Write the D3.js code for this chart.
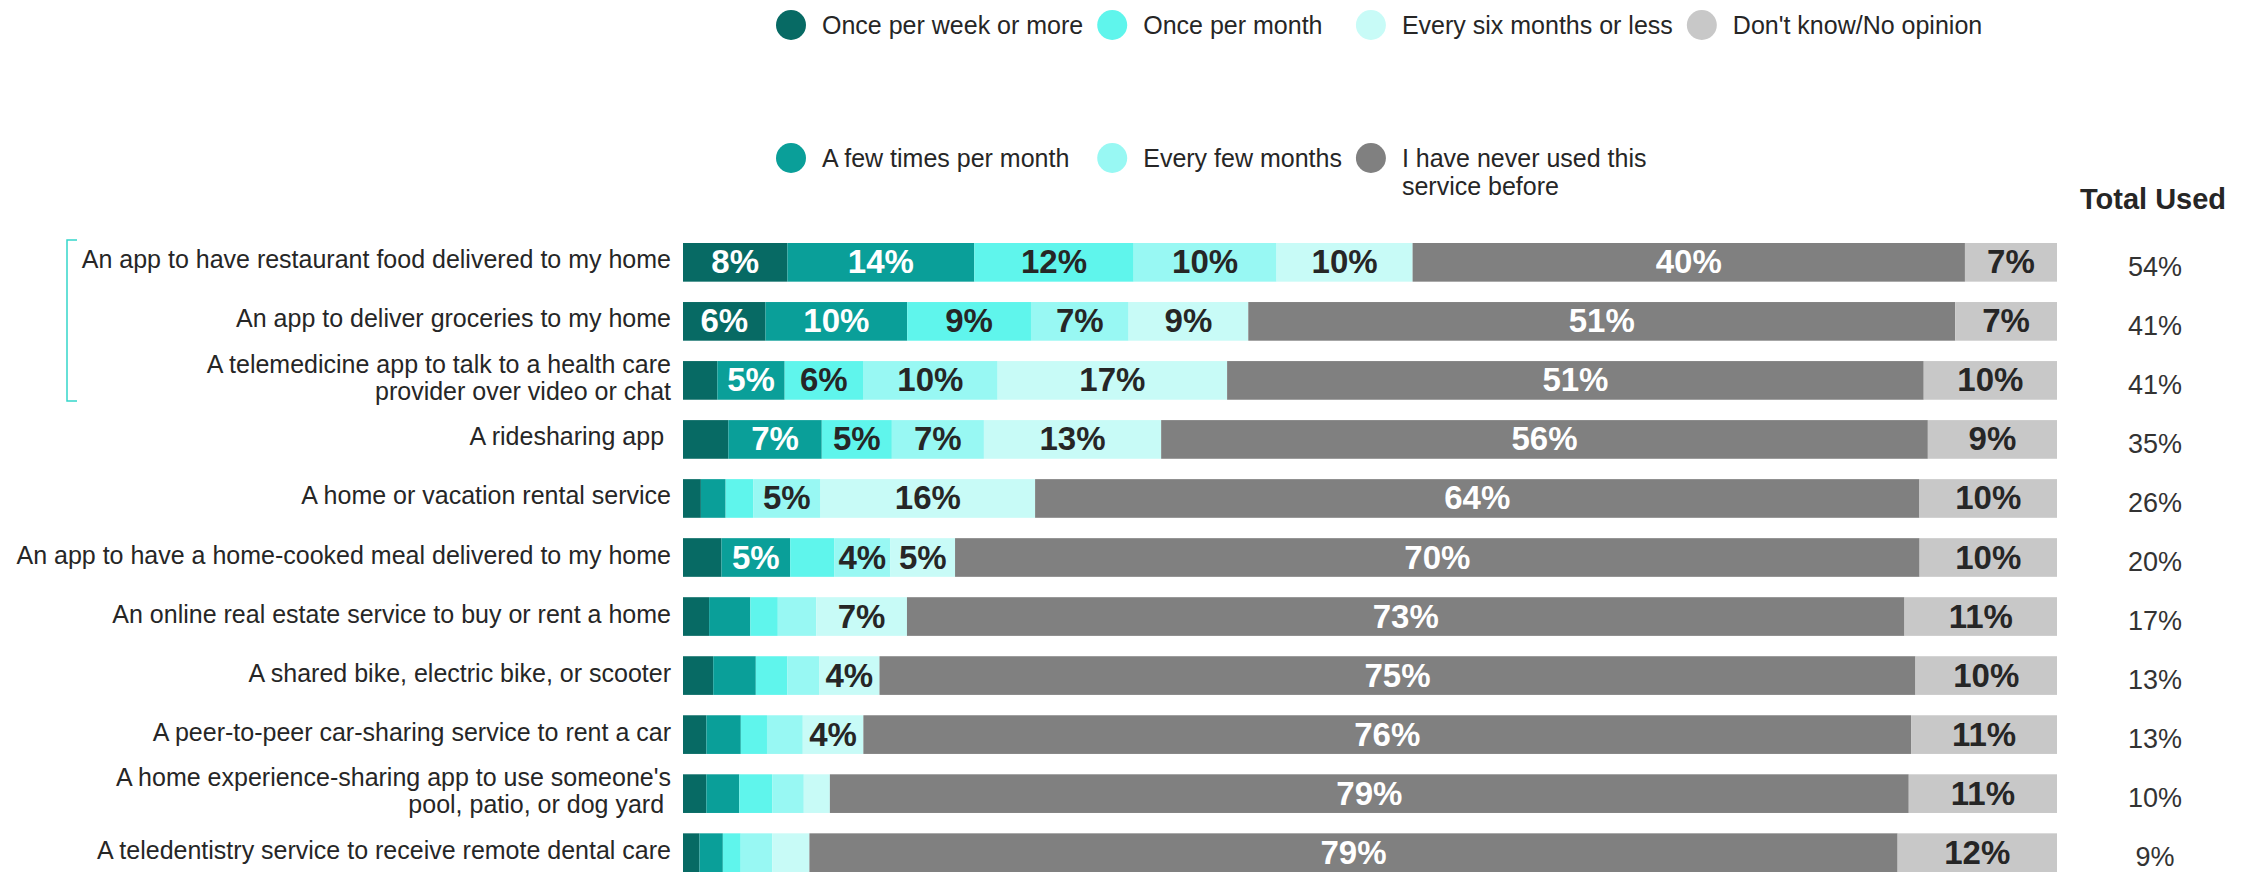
<!DOCTYPE html>
<html>
<head>
<meta charset="utf-8">
<script src="https://cdn.jsdelivr.net/npm/d3@7"></script>
<style>
  body { margin: 0; background: #fff; }
  svg text { font-family: "Liberation Sans", Arial, sans-serif; white-space: pre; }
</style>
</head>
<body>
<div id="chart"></div>
<script>
// categories, top to bottom ("\n" = line break)
const categories = [
  "An app to have restaurant food delivered to my home",
  "An app to deliver groceries to my home",
  "A telemedicine app to talk to a health care\nprovider over video or chat",
  "A ridesharing app ",
  "A home or vacation rental service",
  "An app to have a home-cooked meal delivered to my home",
  "An online real estate service to buy or rent a home",
  "A shared bike, electric bike, or scooter",
  "A peer-to-peer car-sharing service to rent a car",
  "A home experience-sharing app to use someone's\npool, patio, or dog yard ",
  "A teledentistry service to receive remote dental care"
];

// percent of respondents per frequency
const onceWeek       = [7.6, 6.0, 2.5, 3.3, 1.3, 2.8, 1.9, 2.2, 1.7, 1.7, 1.2];
const fewPerMonth    = [13.6, 10.3, 4.9, 6.8, 1.8, 5.0, 3.0, 3.1, 2.5, 2.4, 1.7];
const oncePerMonth   = [11.6, 9.0, 5.7, 5.1, 2.0, 3.2, 2.0, 2.3, 1.9, 2.4, 1.3];
const everyFewMonths = [10.4, 7.1, 9.8, 6.7, 4.9, 4.1, 2.8, 2.3, 2.6, 2.3, 2.3];
const sixMonths      = [9.9, 8.7, 16.7, 12.9, 15.6, 4.7, 6.6, 4.4, 4.4, 1.9, 2.7];
const neverUsed      = [40.2, 51.4, 50.7, 55.8, 64.3, 70.2, 72.6, 75.4, 76.1, 78.6, 79.2];
const dontKnow       = [6.7, 7.4, 9.7, 9.4, 10.0, 10.0, 11.1, 10.3, 10.6, 10.8, 11.6];
const totalUsed      = [54, 41, 41, 35, 26, 20, 17, 13, 13, 10, 9];

const seriesKeys = ["onceWeek", "fewPerMonth", "oncePerMonth", "everyFewMonths", "sixMonths", "neverUsed", "dontKnow"];
const seriesNames = ["Once per week or more", "A few times per month", "Once per month", "Every few months",
  "Every six months or less", "I have never used this\nservice before", "Don't know/No opinion"];
const colors = ["#076a64", "#0a9f99", "#5ff5ec", "#98f8f3", "#c8fbf7", "#808080", "#c8c8c8"];
const whiteText = ["onceWeek", "fewPerMonth", "neverUsed"];

const seriesData = [onceWeek, fewPerMonth, oncePerMonth, everyFewMonths, sixMonths, neverUsed, dontKnow];
const rows = categories.map((c, i) => {
  const r = {category: c};
  seriesKeys.forEach((k, j) => r[k] = seriesData[j][i]);
  r.total = totalUsed[i];
  return r;
});

const w = 2258, h = 873;
const svg = d3.select("#chart").append("svg").attr("width", w).attr("height", h);

const x = d3.scaleLinear().domain([0, 1]).range([683, 2057]);
const y = d3.scaleBand().domain(categories).range([243, 872]).paddingInner(0.345).paddingOuter(0);

const stack = d3.stack().keys(seriesKeys).offset(d3.stackOffsetExpand);
const stacked = stack(rows);

const layers = svg.selectAll(".layer").data(stacked).enter().append("g")
  .attr("class", "layer")
  .attr("fill", (d, i) => colors[i]);

layers.selectAll("rect").data(d => d).enter().append("rect")
  .attr("x", d => x(d[0]))
  .attr("y", d => y(d.data.category))
  .attr("width", d => x(d[1]) - x(d[0]))
  .attr("height", y.bandwidth());

// value labels
layers.each(function(layer) {
  const key = layer.key;
  d3.select(this).selectAll("text").data(layer.filter(d => d.data[key] >= 3.5)).enter().append("text")
    .attr("x", d => (x(d[0]) + x(d[1])) / 2)
    .attr("y", d => y(d.data.category) + y.bandwidth() / 2 + 11)
    .attr("text-anchor", "middle")
    .attr("font-size", 33)
    .attr("font-weight", "bold")
    .attr("fill", whiteText.includes(key) ? "#fff" : "#262626")
    .text(d => Math.round(d.data[key]) + "%");
});

// category labels
const catLabels = svg.append("g").selectAll("text").data(categories).enter().append("text")
  .attr("text-anchor", "end")
  .attr("font-size", 25)
  .attr("fill", "#262626");
catLabels.each(function(c) {
  const lines = c.split("\n");
  const cy = y(c) + y.bandwidth() / 2;
  const first = lines.length === 1 ? cy + 6 : cy - 7.5;
  d3.select(this).selectAll("tspan").data(lines).enter().append("tspan")
    .attr("x", 671)
    .attr("y", (l, i) => first + i * 27)
    .text(l => l);
});

// bracket around the top three rows
svg.append("path")
  .attr("d", `M77,240 H67 V401 H77`)
  .attr("fill", "none")
  .attr("stroke", "#35d6ca")
  .attr("stroke-width", 1.5);

// total used column
svg.append("text")
  .attr("x", 2153).attr("y", 209)
  .attr("text-anchor", "middle")
  .attr("font-size", 29).attr("font-weight", "bold").attr("fill", "#262626")
  .text("Total Used");

svg.append("g").selectAll("text").data(rows).enter().append("text")
  .attr("x", 2155)
  .attr("y", d => y(d.category) + y.bandwidth() / 2 + 13.5)
  .attr("text-anchor", "middle")
  .attr("font-size", 27)
  .attr("fill", "#333")
  .text(d => d.total + "%");

// legend: two rows, filled column by column
const legend = svg.append("g");
const legendRowY = [25, 158];
let colX = 791;
for (let c = 0; c * 2 < seriesKeys.length; c++) {
  let maxW = 0;
  for (let r = 0; r < 2; r++) {
    const i = c * 2 + r;
    if (i >= seriesKeys.length) break;
    const cy = legendRowY[r];
    legend.append("circle").attr("cx", colX).attr("cy", cy).attr("r", 15).attr("fill", colors[i]);
    const t = legend.append("text").attr("font-size", 25).attr("fill", "#262626");
    seriesNames[i].split("\n").forEach((l, li) => {
      t.append("tspan").attr("x", colX + 31).attr("y", cy + 8.5 + li * 28).text(l);
    });
    t.selectAll("tspan").each(function() { maxW = Math.max(maxW, this.getComputedTextLength()); });
  }
  colX += 31 + maxW + 29;
}
</script>
</body>
</html>
